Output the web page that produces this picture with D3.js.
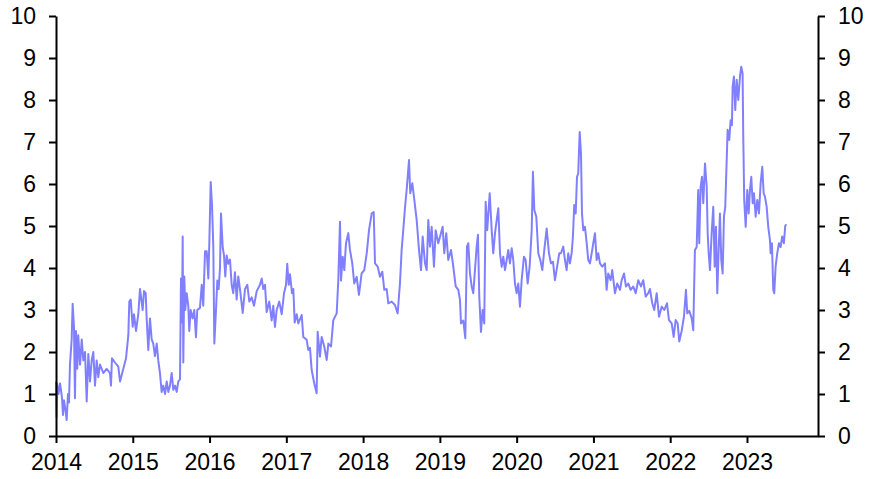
<!DOCTYPE html>
<html>
<head>
<meta charset="utf-8">
<script src="https://cdn.jsdelivr.net/npm/d3@7"></script>
<style>
  body { margin: 0; background: #fff; }
  svg { display: block; font-family: Arial, "Liberation Sans", sans-serif; }
</style>
</head>
<body>
<div id="chart"></div>
<script>
"use strict";

// Dates as decimal years
const dates = [
  2014.000, 2014.007, 2014.013, 2014.033, 2014.052, 2014.065, 2014.078, 2014.091, 2014.104, 2014.117,
  2014.139, 2014.156, 2014.169, 2014.182, 2014.204, 2014.217, 2014.234, 2014.247, 2014.260, 2014.277,
  2014.290, 2014.313, 2014.335, 2014.356, 2014.378, 2014.400, 2014.421, 2014.443, 2014.465, 2014.486,
  2014.508, 2014.530, 2014.551, 2014.573, 2014.616, 2014.660, 2014.703, 2014.716, 2014.729, 2014.768,
  2014.811, 2014.834, 2014.877, 2014.912, 2014.942, 2014.955, 2014.973, 2014.999, 2015.016, 2015.042,
  2015.072, 2015.094, 2015.129, 2015.146, 2015.168, 2015.181, 2015.202, 2015.224, 2015.246, 2015.267,
  2015.289, 2015.312, 2015.332, 2015.354, 2015.376, 2015.397, 2015.420, 2015.442, 2015.463, 2015.485,
  2015.507, 2015.528, 2015.550, 2015.572, 2015.593, 2015.615, 2015.628, 2015.641, 2015.650, 2015.658,
  2015.671, 2015.684, 2015.702, 2015.723, 2015.736, 2015.754, 2015.780, 2015.801, 2015.823, 2015.840,
  2015.875, 2015.898, 2015.918, 2015.941, 2015.963, 2015.984, 2015.997, 2016.015, 2016.032, 2016.049,
  2016.062, 2016.084, 2016.101, 2016.119, 2016.136, 2016.149, 2016.171, 2016.188, 2016.205, 2016.223,
  2016.244, 2016.266, 2016.288, 2016.309, 2016.331, 2016.353, 2016.374, 2016.396, 2016.432, 2016.462,
  2016.492, 2016.518, 2016.549, 2016.579, 2016.614, 2016.657, 2016.679, 2016.700, 2016.722, 2016.744,
  2016.778, 2016.809, 2016.830, 2016.852, 2016.874, 2016.908, 2016.940, 2016.970, 2016.996, 2017.012,
  2017.031, 2017.048, 2017.074, 2017.091, 2017.109, 2017.135, 2017.156, 2017.200, 2017.221, 2017.265,
  2017.286, 2017.308, 2017.330, 2017.364, 2017.395, 2017.408, 2017.438, 2017.460, 2017.494, 2017.526,
  2017.547, 2017.582, 2017.612, 2017.656, 2017.677, 2017.699, 2017.712, 2017.734, 2017.755, 2017.777,
  2017.807, 2017.829, 2017.859, 2017.885, 2017.916, 2017.946, 2017.981, 2018.015, 2018.047, 2018.077,
  2018.112, 2018.138, 2018.155, 2018.190, 2018.220, 2018.250, 2018.276, 2018.307, 2018.328, 2018.372,
  2018.415, 2018.450, 2018.480, 2018.502, 2018.523, 2018.545, 2018.571, 2018.598, 2018.614, 2018.641,
  2018.667, 2018.698, 2018.728, 2018.754, 2018.776, 2018.806, 2018.828, 2018.849, 2018.871, 2018.893,
  2018.923, 2018.945, 2018.979, 2019.014, 2019.036, 2019.057, 2019.083, 2019.109, 2019.145, 2019.175,
  2019.206, 2019.240, 2019.262, 2019.275, 2019.305, 2019.331, 2019.353, 2019.370, 2019.392, 2019.414,
  2019.435, 2019.457, 2019.479, 2019.496, 2019.513, 2019.535, 2019.557, 2019.578, 2019.596, 2019.617,
  2019.649, 2019.675, 2019.695, 2019.718, 2019.740, 2019.761, 2019.783, 2019.805, 2019.826, 2019.848,
  2019.870, 2019.891, 2019.913, 2019.935, 2019.956, 2019.978, 2020.000, 2020.021, 2020.043, 2020.065,
  2020.095, 2020.117, 2020.143, 2020.169, 2020.196, 2020.212, 2020.230, 2020.256, 2020.282, 2020.308,
  2020.334, 2020.360, 2020.391, 2020.421, 2020.447, 2020.473, 2020.499, 2020.534, 2020.555, 2020.577,
  2020.607, 2020.629, 2020.651, 2020.672, 2020.694, 2020.716, 2020.733, 2020.750, 2020.769, 2020.786,
  2020.802, 2020.821, 2020.838, 2020.851, 2020.868, 2020.890, 2020.912, 2020.933, 2020.955, 2020.977,
  2020.998, 2021.020, 2021.042, 2021.063, 2021.085, 2021.115, 2021.150, 2021.172, 2021.193, 2021.224,
  2021.245, 2021.280, 2021.310, 2021.346, 2021.368, 2021.398, 2021.424, 2021.454, 2021.485, 2021.519,
  2021.550, 2021.584, 2021.619, 2021.649, 2021.680, 2021.714, 2021.736, 2021.766, 2021.792, 2021.824,
  2021.854, 2021.889, 2021.923, 2021.958, 2021.984, 2022.019, 2022.045, 2022.071, 2022.097, 2022.118,
  2022.149, 2022.179, 2022.205, 2022.222, 2022.248, 2022.280, 2022.300, 2022.322, 2022.345, 2022.365,
  2022.378, 2022.397, 2022.414, 2022.431, 2022.453, 2022.475, 2022.488, 2022.501, 2022.518, 2022.540,
  2022.561, 2022.579, 2022.596, 2022.613, 2022.631, 2022.648, 2022.665, 2022.683, 2022.700, 2022.717,
  2022.748, 2022.769, 2022.787, 2022.804, 2022.813, 2022.830, 2022.847, 2022.866, 2022.887, 2022.909,
  2022.925, 2022.943, 2022.951, 2022.964, 2022.983, 2023.004, 2023.022, 2023.039, 2023.056, 2023.074,
  2023.091, 2023.113, 2023.134, 2023.156, 2023.178, 2023.199, 2023.217, 2023.234, 2023.256, 2023.277,
  2023.299, 2023.308, 2023.325, 2023.342, 2023.355, 2023.373, 2023.394, 2023.416, 2023.438, 2023.459,
  2023.481, 2023.498, 2023.511
];

const values = [
  1.30, 0.45, 1.25, 1.00, 1.25, 1.10, 0.90, 0.50, 0.85, 0.70,
  0.38, 1.00, 0.80, 1.70, 2.30, 3.15, 2.60, 0.90, 2.50, 1.60,
  2.40, 1.70, 2.30, 1.80, 2.00, 0.82, 1.95, 1.30, 1.80, 2.00,
  1.20, 1.80, 1.40, 1.70, 1.50, 1.60, 1.50, 1.20, 1.85, 1.75,
  1.65, 1.30, 1.60, 1.85, 2.40, 3.20, 3.25, 2.60, 2.90, 2.50,
  2.90, 3.50, 3.00, 3.45, 3.40, 2.80, 2.05, 2.80, 2.30, 2.20,
  1.90, 2.20, 1.80, 1.50, 1.05, 1.20, 1.00, 1.30, 1.05, 1.20,
  1.50, 1.10, 1.20, 1.05, 1.30, 1.35, 3.75, 2.70, 4.75, 1.75,
  3.80, 3.00, 3.40, 3.10, 2.50, 3.00, 2.80, 3.00, 2.35, 3.00,
  3.05, 3.60, 3.10, 4.40, 4.40, 3.75, 4.60, 6.05, 5.50, 4.50,
  2.20, 3.00, 3.70, 3.50, 4.00, 5.30, 4.50, 4.30, 3.80, 4.30,
  4.10, 4.20, 3.60, 3.40, 3.90, 3.25, 3.80, 3.50, 2.93, 3.50,
  3.60, 3.20, 3.30, 3.10, 3.45, 3.60, 3.75, 3.50, 3.60, 2.95,
  3.20, 2.75, 3.10, 2.60, 3.00, 3.20, 2.90, 3.40, 3.60, 4.10,
  3.60, 3.85, 3.40, 3.50, 2.70, 2.90, 2.68, 2.88, 2.36, 2.29,
  2.05, 2.10, 1.57, 1.25, 1.02, 2.48, 1.89, 2.36, 2.13, 1.81,
  2.20, 2.13, 2.76, 2.92, 3.71, 5.10, 3.70, 4.27, 3.95, 4.59,
  4.83, 4.43, 4.11, 3.63, 3.79, 3.36, 3.87, 3.95, 4.35, 4.90,
  5.30, 5.33, 4.11, 4.03, 3.79, 3.91, 3.48, 3.50, 3.16, 3.20,
  3.12, 2.92, 3.63, 4.43, 4.90, 5.42, 5.94, 6.57, 5.78, 6.02,
  5.62, 5.14, 4.43, 3.95, 4.75, 4.11, 3.95, 5.14, 4.51, 4.98,
  4.03, 4.90, 4.59, 4.83, 4.98, 4.35, 4.83, 4.19, 4.43, 4.03,
  3.56, 3.48, 3.24, 2.68, 2.75, 2.33, 4.51, 4.59, 3.87, 3.56,
  3.40, 3.95, 4.51, 4.79, 3.32, 2.48, 3.00, 2.68, 5.58, 4.90,
  5.78, 4.90, 4.35, 4.83, 5.14, 5.42, 4.35, 4.03, 4.27, 3.95,
  4.19, 4.43, 4.11, 4.47, 4.19, 3.63, 3.40, 3.63, 3.08, 3.71,
  4.27, 4.19, 3.63, 4.03, 4.90, 6.29, 5.38, 5.22, 4.35, 4.19,
  3.95, 4.43, 4.94, 4.35, 4.11, 4.15, 3.71, 4.11, 4.35, 4.35,
  4.51, 4.19, 3.95, 4.35, 4.11, 4.35, 4.75, 5.50, 5.30, 6.17,
  6.25, 7.24, 6.73, 5.30, 4.90, 4.98, 4.59, 4.19, 4.11, 4.35,
  4.59, 4.83, 4.19, 4.35, 4.11, 4.03, 4.11, 3.48, 3.87, 3.71,
  3.95, 3.40, 3.63, 3.48, 3.71, 3.87, 3.56, 3.63, 3.48, 3.56,
  3.40, 3.71, 3.56, 3.71, 3.32, 3.40, 3.50, 3.16, 3.00, 3.40,
  2.84, 3.08, 3.00, 3.16, 2.76, 2.68, 2.36, 2.76, 2.68, 2.25,
  2.50, 2.84, 3.48, 2.92, 2.98, 2.80, 2.52, 4.43, 4.50, 5.86,
  4.59, 5.94, 6.17, 5.54, 6.49, 5.94, 4.83, 4.35, 3.95, 4.83,
  5.46, 4.03, 4.98, 3.40, 4.43, 5.30, 4.19, 3.87, 5.22, 5.46,
  7.29, 7.05, 7.52, 7.40, 8.32, 8.56, 7.76, 8.48, 8.00, 8.56,
  8.79, 8.63, 7.20, 5.62, 4.98, 5.86, 5.30, 5.86, 6.17, 5.54,
  5.78, 5.22, 5.62, 5.30, 6.02, 6.41, 5.78, 5.70, 5.46, 4.98,
  4.67, 4.35, 4.59, 3.48, 3.40, 4.03, 4.35, 4.59, 4.50, 4.75,
  4.59, 5.00, 5.04
];

const yearTicks = [2014, 2015, 2016, 2017, 2018, 2019, 2020, 2021, 2022, 2023];
const valueTicks = [0, 1, 2, 3, 4, 5, 6, 7, 8, 9, 10];

const width = 872, height = 479;
const plotLeft = 56, plotRight = 818, plotTop = 16, plotBottom = 436;

const data = dates.map((d, i) => ({ date: d, value: values[i] }));

const x = d3.scaleLinear([2014, 2023.925], [plotLeft, plotRight]);
const y = d3.scaleLinear([0, 10], [plotBottom, plotTop]);

const svg = d3.select("#chart").append("svg")
    .attr("width", width)
    .attr("height", height)
    .attr("viewBox", [0, 0, width, height]);

function styleAxis(g) {
    g.attr("font-size", 23).attr("font-family", "Arial, 'Liberation Sans', sans-serif");
    g.selectAll("path, line").attr("stroke", "#000").attr("stroke-width", 2);
    g.selectAll("text").attr("fill", "#000");
}

svg.append("path")
    .attr("fill", "none")
    .attr("stroke", "#8080ff")
    .attr("stroke-width", 2)
    .attr("stroke-linejoin", "round")
    .attr("d", d3.line().x(d => x(d.date)).y(d => y(d.value))(data));

svg.append("g")
    .attr("transform", `translate(0,${plotBottom})`)
    .call(d3.axisBottom(x).tickValues(yearTicks).tickFormat(d3.format("d"))
        .tickSize(7).tickSizeOuter(0).tickPadding(11))
    .call(styleAxis);

svg.append("g")
    .attr("transform", `translate(${plotLeft},0)`)
    .call(d3.axisLeft(y).tickValues(valueTicks).tickSize(7).tickSizeOuter(0).tickPadding(13))
    .call(styleAxis);

svg.append("g")
    .attr("transform", `translate(${plotRight},0)`)
    .call(d3.axisRight(y).tickValues(valueTicks).tickSize(7).tickSizeOuter(0).tickPadding(13))
    .call(styleAxis);
</script>
</body>
</html>
